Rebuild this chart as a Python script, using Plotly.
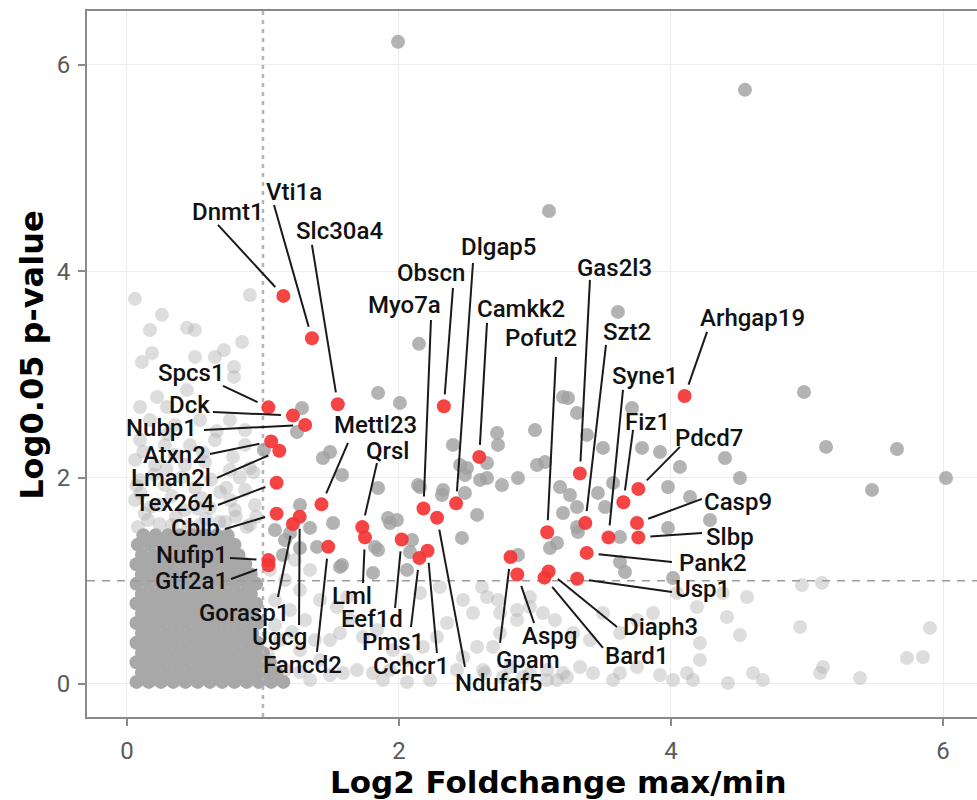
import math
import plotly.graph_objects as go

# ---------------------------------------------------------------------------
# Highlighted genes: log2 fold change (max/min) and -log0.05 p-value
# ---------------------------------------------------------------------------
genes = ["Dnmt1", "Vti1a", "Slc30a4", "Spcs1", "Dck", "Nubp1", "Atxn2", "Lman2l",
         "Tex264", "Cblb", "Nufip1", "Gtf2a1", "Gorasp1", "Ugcg", "Fancd2", "Mettl23",
         "Qrsl", "Lml", "Eef1d", "Pms1", "Cchcr1", "Ndufaf5", "Myo7a", "Obscn",
         "Dlgap5", "Camkk2", "Gpam", "Aspg", "Pofut2", "Bard1", "Diaph3", "Gas2l3",
         "Szt2", "Usp1", "Pank2", "Syne1", "Fiz1", "Pdcd7", "Casp9", "Slbp", "Arhgap19"]
gene_fc = [1.15, 1.36, 1.55, 1.04, 1.22, 1.31, 1.06, 1.12,
           1.10, 1.10, 1.04, 1.04, 1.22, 1.27, 1.48, 1.43,
           1.73, 1.75, 2.02, 2.15, 2.21, 2.28, 2.18, 2.33,
           2.42, 2.59, 2.82, 2.87, 3.09, 3.07, 3.10, 3.33,
           3.37, 3.31, 3.38, 3.54, 3.65, 3.76, 3.75, 3.76, 4.10]
gene_p = [3.76, 3.35, 2.71, 2.68, 2.60, 2.51, 2.35, 2.26,
          1.95, 1.65, 1.20, 1.15, 1.55, 1.62, 1.33, 1.74,
          1.52, 1.42, 1.40, 1.22, 1.29, 1.61, 1.70, 2.69,
          1.75, 2.20, 1.23, 1.06, 1.47, 1.03, 1.09, 2.04,
          1.56, 1.02, 1.27, 1.42, 1.76, 1.89, 1.56, 1.42, 2.79]

# Repelled label placement (data units) and where each leader line leaves its label
label_x = [0.743, 1.228, 1.566, 0.478, 0.456, 0.257, 0.346, 0.324,
           0.353, 0.507, 0.478, 0.471, 0.860, 1.118, 1.287, 1.824,
           1.919, 1.654, 1.801, 1.956, 2.088, 2.735, 2.044, 2.235,
           2.728, 2.897, 2.949, 3.103, 3.044, 3.750, 3.926, 3.588,
           3.676, 4.228, 4.309, 3.809, 3.824, 4.279, 4.493, 4.434, 4.596]
label_y = [4.574, 4.767, 4.390, 3.014, 2.703, 2.481, 2.219, 1.996,
           1.754, 1.512, 1.250, 0.998, 0.688, 0.455, 0.184, 2.510,
           2.258, 0.853, 0.630, 0.407, 0.174, 0.010, 3.672, 3.983,
           4.234, 3.634, 0.233, 0.465, 3.353, 0.271, 0.552, 4.031,
           3.411, 0.921, 1.172, 2.984, 2.539, 2.384, 1.764, 1.424, 3.547]
seg_x = [0.669, 1.081, 1.360, 0.706, 0.632, 0.566, 0.610, 0.662,
         0.669, 0.721, 0.757, 0.765, 1.110, 1.265, 1.397, 1.625,
         1.838, 1.735, 1.971, 2.088, 2.279, 2.485, 2.235, 2.397,
         2.544, 2.647, 2.743, 2.993, 3.154, 3.500, 3.603, 3.404,
         3.522, 4.007, 4.007, 3.647, 3.721, 4.066, 4.228, 4.228, 4.265]
seg_y = [4.448, 4.641, 4.254, 2.888, 2.636, 2.461, 2.229, 1.996,
         1.734, 1.502, 1.221, 1.017, 0.843, 0.572, 0.310, 2.335,
         2.141, 0.979, 0.736, 0.552, 0.300, 0.165, 3.527, 3.837,
         4.079, 3.498, 0.397, 0.591, 3.169, 0.349, 0.552, 3.915,
         3.285, 0.891, 1.182, 2.849, 2.461, 2.297, 1.793, 1.463, 3.411]

# Significant (fc > 1, p > 1) genes without a label
sig_fc = [1.993, 4.544, 3.103, 3.610, 2.147, 4.978, 5.140, 5.662, 5.478, 6.022,
          1.846, 2.007, 1.287, 3.206, 3.243, 2.397, 2.721, 2.728, 3.000, 2.647,
          2.500, 2.647, 2.757, 2.875, 2.485, 2.324, 2.485, 2.574, 2.463, 2.140,
          1.846, 1.919, 1.515, 1.581, 1.493, 1.846, 1.809, 2.096, 2.081, 2.059,
          1.581, 3.015, 3.074, 3.184, 3.257, 3.206, 3.162, 3.110, 3.309, 3.309,
          3.316, 2.875, 2.316, 3.382, 3.500, 3.713, 3.787, 3.919, 4.066, 4.397,
          4.507, 3.978, 3.463, 3.574, 3.515, 4.140, 4.287, 3.978, 3.625, 3.309,
          3.625, 3.662, 4.015, 1.441, 1.397, 1.272, 1.199, 1.934, 1.566, 1.824,
          1.985, 2.154, 2.449, 2.596, 1.162, 1.272, 1.147, 1.346, 1.088, 1.250, 1.007]
sig_p = [6.221, 5.756, 4.583, 3.605, 3.295, 2.829, 2.297, 2.277, 1.880, 1.996,
         2.820, 2.723, 2.674, 2.781, 2.771, 2.316, 2.432, 2.316, 2.461, 2.141,
         2.093, 1.996, 1.928, 1.996, 2.025, 1.880, 1.851, 1.638, 1.415, 1.928,
         1.899, 1.609, 1.560, 2.025, 2.248, 1.298, 1.076, 1.395, 1.279, 1.105,
         1.153, 2.122, 2.151, 1.909, 1.831, 1.657, 1.366, 1.318, 2.626, 1.715,
         1.473, 1.250, 1.831, 2.413, 2.287, 2.674, 2.287, 2.248, 2.103, 2.190,
         1.996, 1.909, 1.851, 1.948, 1.715, 1.812, 1.589, 1.512, 1.424, 1.521,
         1.182, 1.085, 1.027, 2.190, 1.328, 1.734, 1.463, 1.560, 1.134, 1.328,
         1.589, 1.909, 2.122, 1.977, 1.395, 1.318, 1.250, 1.512, 1.492, 2.440, 2.267]

# Non-significant genes away from the dense core
ns_fc = [0.059, 0.257, 0.169, 0.441, 0.500, 0.846, 0.904, 0.713, 0.647, 0.500,
         0.110, 0.184, 0.787, 0.787, 0.096, 0.221, 0.294, 0.441, 0.169, 0.353,
         0.537, 0.757, 0.868, 0.096, 0.279, 0.463, 0.647, 0.868, 0.060, 0.206,
         0.426, 0.574, 0.757, 0.904, 0.096, 0.279, 0.500, 0.684, 0.868, 0.059,
         0.243, 0.426, 0.610, 0.794, 0.941, 0.154, 0.331, 0.537, 0.721, 0.904,
         0.13, 0.36, 0.58, 0.80, 0.10, 0.33, 0.55, 0.76, 0.20, 0.40,
         0.62, 0.83, 0.12, 0.35, 0.56, 0.78, 0.30, 0.66, 0.93, 0.95,
         0.08, 0.24, 0.45, 0.68, 0.88, 0.18, 0.52, 0.73, 0.07, 0.29,
         4.963, 5.110, 4.559, 4.412, 4.949, 4.507, 5.904, 5.735, 5.853, 5.096,
         5.118, 5.390, 4.603, 4.676, 4.213, 4.213, 4.118, 4.015, 3.919, 3.750,
         3.625, 3.574, 3.426, 3.331, 3.235, 3.162, 3.088, 4.162, 4.419, 4.382,
         4.191, 4.044, 3.868, 3.750, 3.625, 3.500, 3.404, 3.279, 3.147, 2.963,
         2.868, 2.743, 2.647, 2.691, 2.816, 2.912, 2.632,
         2.610, 2.471, 2.544, 2.353, 2.279, 2.176, 2.059, 1.934, 1.809, 1.691,
         1.588, 1.956, 1.838, 1.735, 1.566, 1.640, 1.544, 1.618, 2.154, 2.301,
         2.728, 2.868, 2.963, 3.059, 2.743, 2.574, 2.471, 2.426, 2.618, 2.765,
         2.963, 3.088, 3.206, 2.228, 2.059, 1.882,
         1.088, 1.199, 1.309, 1.125, 1.272, 1.419, 1.162, 1.051, 1.346, 1.493,
         1.272, 1.419, 1.162, 1.051, 1.346, 1.235, 1.088, 1.213, 1.037, 1.272,
         1.493, 1.382]
ns_p = [3.731, 3.576, 3.430, 3.450, 3.430, 3.314, 3.769, 3.236, 3.169, 3.169,
        3.120, 3.207, 3.072, 2.975, 2.684, 2.781, 2.684, 2.849, 2.558, 2.510,
        2.558, 2.558, 2.461, 2.364, 2.316, 2.316, 2.364, 2.316, 2.171, 2.122,
        2.122, 2.151, 2.074, 2.093, 1.977, 1.928, 1.899, 1.860, 1.880, 1.783,
        1.734, 1.686, 1.705, 1.686, 1.734, 1.589, 1.541, 1.541, 1.570, 1.541,
        1.65, 1.62, 1.60, 1.62, 1.85, 1.82, 1.80, 1.78, 2.03, 2.00,
        1.98, 2.00, 2.25, 2.22, 2.24, 2.20, 2.42, 2.45, 2.05, 1.62,
        1.52, 1.55, 1.53, 1.57, 1.52, 1.72, 1.70, 1.90, 1.92, 2.08,
        0.959, 0.979, 0.843, 0.649, 0.552, 0.475, 0.543, 0.252, 0.262, 0.107,
        0.165, 0.058, 0.107, 0.039, 0.397, 0.233, 0.107, 0.039, 0.087, 0.165,
        0.107, 0.039, 0.107, 0.165, 0.068, 0.039, 0.136, 0.039, 0.010, 0.882,
        0.746, 0.882, 0.688, 0.620, 0.494, 0.688, 0.426, 0.494, 0.620, 0.746,
        0.620, 0.688, 0.843, 0.359, 0.165, 0.068, 0.107,
        0.940, 0.814, 0.688, 0.591, 0.455, 0.359, 0.233, 0.136, 0.107, 0.136,
        0.107, 0.329, 0.523, 0.455, 0.494, 0.620, 0.746, 0.843, 0.882, 0.940,
        0.814, 0.717, 0.843, 0.688, 0.494, 0.359, 0.262, 0.136, 0.136, 0.068,
        0.107, 0.039, 0.107, 0.039, 0.019, 0.039,
        0.814, 0.717, 0.620, 0.426, 0.329, 0.233, 0.136, 0.039, 0.039, 0.426,
        0.911, 0.814, 1.008, 1.105, 1.105, 1.202, 0.572, 0.504, 0.281, 0.116,
        0.087, 0.426]

# Dense core of unchanged genes, listed row by row (p-value row, fold changes in it)
core_row_p = [0.02, 0.11, 0.21, 0.30, 0.40, 0.49, 0.59, 0.68,
              0.78, 0.87, 0.97, 1.06, 1.16, 1.25, 1.35, 1.44]
core_row_fc = [
    [0.07, 0.16, 0.25, 0.34, 0.43, 0.52, 0.61, 0.70, 0.79, 0.88, 0.97, 1.06, 1.15],
    [0.11, 0.20, 0.29, 0.38, 0.47, 0.56, 0.65, 0.74, 0.83, 0.92, 1.01, 1.10],
    [0.07, 0.16, 0.25, 0.34, 0.43, 0.52, 0.61, 0.70, 0.79, 0.88, 0.97, 1.05],
    [0.11, 0.20, 0.29, 0.38, 0.47, 0.56, 0.65, 0.74, 0.83, 0.92, 1.00],
    [0.07, 0.16, 0.25, 0.34, 0.43, 0.52, 0.61, 0.70, 0.79, 0.88, 0.96],
    [0.11, 0.20, 0.29, 0.38, 0.47, 0.56, 0.65, 0.74, 0.83, 0.92],
    [0.07, 0.16, 0.25, 0.34, 0.43, 0.52, 0.61, 0.70, 0.79, 0.88, 0.96],
    [0.11, 0.20, 0.29, 0.38, 0.47, 0.56, 0.65, 0.74, 0.83, 0.92],
    [0.07, 0.16, 0.25, 0.34, 0.43, 0.52, 0.61, 0.70, 0.79, 0.88, 0.95],
    [0.11, 0.20, 0.29, 0.38, 0.47, 0.56, 0.65, 0.74, 0.83, 0.91],
    [0.07, 0.16, 0.25, 0.34, 0.43, 0.52, 0.61, 0.70, 0.79, 0.88, 0.95],
    [0.11, 0.20, 0.29, 0.38, 0.47, 0.56, 0.65, 0.74, 0.83, 0.91],
    [0.07, 0.16, 0.25, 0.34, 0.43, 0.52, 0.61, 0.70, 0.79, 0.87],
    [0.11, 0.20, 0.29, 0.38, 0.47, 0.56, 0.65, 0.74, 0.82],
    [0.08, 0.17, 0.26, 0.35, 0.44, 0.53, 0.62, 0.71, 0.79],
    [0.12, 0.21, 0.30, 0.39, 0.48, 0.57, 0.66, 0.74],
]

fc_cut = 1.0
p_cut = 1.0
x_ticks = [0, 2, 4, 6]
y_ticks = [0, 2, 4, 6]

# ---------------------------------------------------------------------------
# Geometry
# ---------------------------------------------------------------------------
W, H = 977, 800
M_L, M_R, M_T, M_B = 87, 0, 11, 83
X_RANGE = [-0.294, 6.25]
Y_RANGE = [-0.32, 6.52]
px_per_x = (W - M_L - M_R) / (X_RANGE[1] - X_RANGE[0])
px_per_y = (H - M_T - M_B) / (Y_RANGE[1] - Y_RANGE[0])

core_fc, core_p = [], []
for p, row in zip(core_row_p, core_row_fc):
    core_fc.extend(row)
    core_p.extend([p] * len(row))

LABEL_FONT = "Roboto, 'Open Sans', sans-serif"
TITLE_FONT = "'DejaVu Sans', sans-serif"

fig = go.Figure()

# faint non-significant genes
fig.add_trace(go.Scatter(
    x=ns_fc, y=ns_p, mode="markers", hoverinfo="skip",
    marker=dict(size=14, color="rgba(175,175,175,0.42)", line=dict(width=0))))

# saturated core
fig.add_trace(go.Scatter(
    x=core_fc, y=core_p, mode="markers", hoverinfo="skip",
    marker=dict(size=14, color="rgb(168,168,168)", line=dict(width=0))))

# cut-off lines
fig.add_trace(go.Scatter(
    x=[fc_cut, fc_cut], y=Y_RANGE, mode="lines", hoverinfo="skip",
    line=dict(color="#b4b4b4", width=2.5, dash="4px,5px")))
fig.add_trace(go.Scatter(
    x=X_RANGE, y=[p_cut, p_cut], mode="lines", hoverinfo="skip",
    line=dict(color="#9c9c9c", width=1.5, dash="8px,7px")))

# significant, unlabeled
fig.add_trace(go.Scatter(
    x=sig_fc, y=sig_p, mode="markers", hoverinfo="skip",
    marker=dict(size=14, color="rgba(160,160,160,0.8)", line=dict(width=0))))

# highlighted genes
fig.add_trace(go.Scatter(
    x=gene_fc, y=gene_p, mode="markers", text=genes, hoverinfo="text",
    marker=dict(size=14, color="rgba(243,52,52,0.92)", line=dict(width=0))))

# leader lines and labels
shapes = []
annotations = []
PAD = 12.0
for g, fx, fy, lx, ly, sx, sy in zip(genes, gene_fc, gene_p, label_x, label_y, seg_x, seg_y):
    dxp = (sx - fx) * px_per_x
    dyp = (sy - fy) * px_per_y
    d = math.hypot(dxp, dyp)
    ex = fx + (sx - fx) * PAD / d
    ey = fy + (sy - fy) * PAD / d
    shapes.append(dict(type="line", xref="x", yref="y", x0=sx, y0=sy, x1=ex, y1=ey,
                       line=dict(color="#1a1a1a", width=2), layer="above"))
    annotations.append(dict(x=lx, y=ly, xref="x", yref="y", text=g, showarrow=False,
                            xanchor="center", yanchor="middle",
                            font=dict(family=LABEL_FONT, size=24, color="#111111", weight=500)))

# axis titles
annotations.append(dict(x=0.530, y=-0.0915, xref="paper", yref="paper",
                        text="Log2 Foldchange max/min", showarrow=False,
                        xanchor="center", yanchor="middle",
                        font=dict(family=TITLE_FONT, size=31, color="#000000", weight="bold")))
annotations.append(dict(x=-0.0618, y=0.513, xref="paper", yref="paper",
                        text="Log0.05 p-value", showarrow=False, textangle=-90,
                        xanchor="center", yanchor="middle",
                        font=dict(family=TITLE_FONT, size=32, color="#000000", weight="bold")))

axis_common = dict(
    ticks="outside", ticklen=7, tickwidth=1.5, tickcolor="#8a8a8a",
    tickfont=dict(family=LABEL_FONT, size=24, color="#5a5a5a"),
    showgrid=True, gridcolor="#ececec", gridwidth=1,
    zeroline=False, showline=True, linecolor="#8a8a8a", linewidth=2,
)

fig.update_layout(
    width=W, height=H,
    margin=dict(l=M_L, r=M_R, t=M_T, b=M_B),
    plot_bgcolor="white", paper_bgcolor="white",
    showlegend=False,
    shapes=shapes,
    annotations=annotations,
    xaxis=dict(range=X_RANGE, tickvals=x_ticks, mirror=True,
               ticklabelstandoff=4, **axis_common),
    yaxis=dict(range=Y_RANGE, tickvals=y_ticks, mirror=False,
               ticklabelstandoff=3, **axis_common),
)

fig.write_html("out.html")
